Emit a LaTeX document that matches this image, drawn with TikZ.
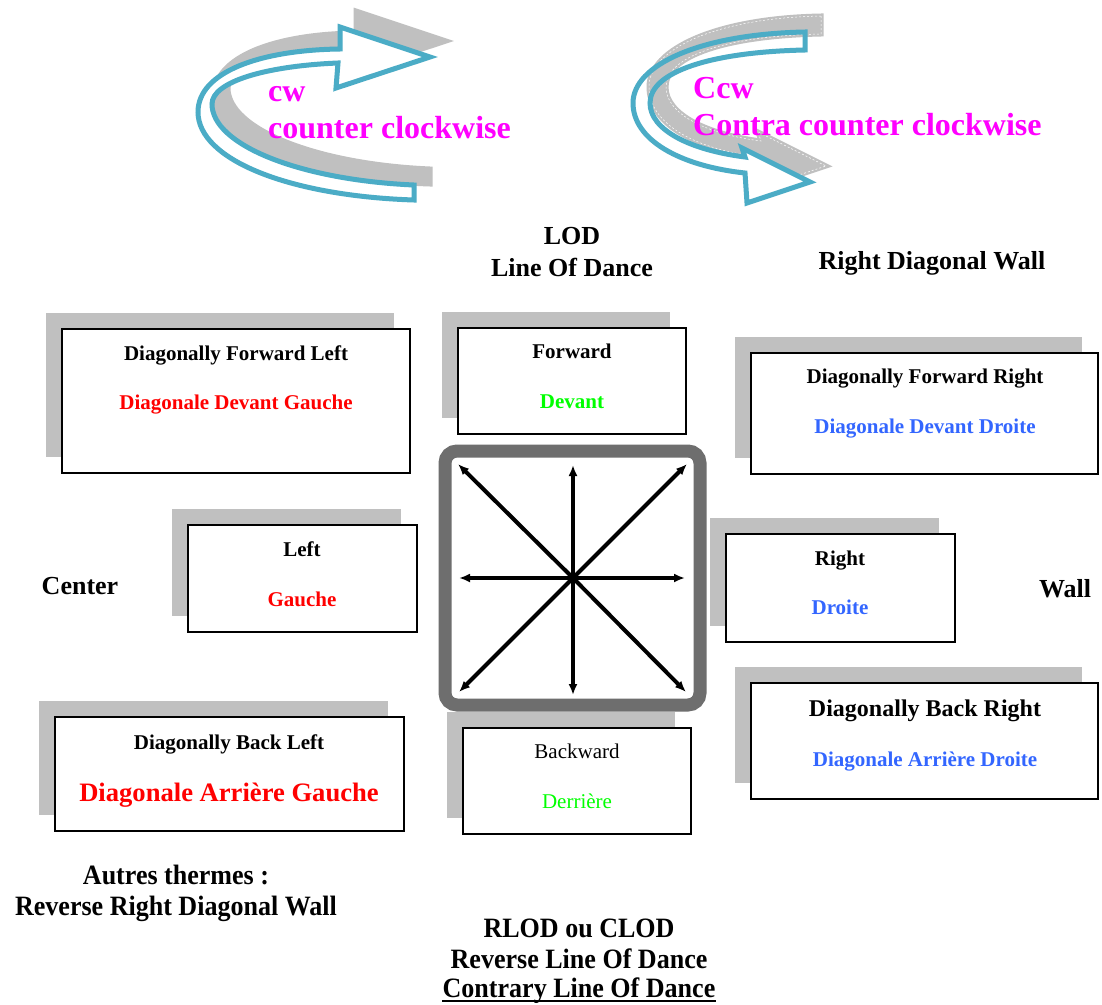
\documentclass[tikz,border=0pt]{standalone}
\usepackage{fontspec}
\usepackage{graphicx}
\setmainfont{Liberation Serif}
\usetikzlibrary{arrows.meta}
\definecolor{arrowblue}{HTML}{4BACC6}
\definecolor{shadowgray}{HTML}{C0C0C0}
\definecolor{framegray}{HTML}{6E6E6E}
\definecolor{txtred}{HTML}{FF0000}
\definecolor{txtgreen}{HTML}{00FF00}
\definecolor{txtblue}{HTML}{3366FF}
\definecolor{txtmag}{HTML}{FF00FF}
\newcommand{\shadowedbox}[5]{%
  \node[boxshadow, minimum width=#4, minimum height=#5] at (#2-16,#3-16) {};
  \node[dirbox, minimum width=#4, minimum height=#5] (#1) at (#2,#3) {};
}
\def\cwpath{(414,200) .. controls (290,196) and (198,160) .. (198,112) .. controls (198,72) and (260,50) .. (340,49) -- (340,27) -- (430,57) -- (336,88) -- (338,63) .. controls (265,66) and (212,82) .. (212,104) .. controls (212,145) and (300,180) .. (414,185) -- cycle}
\def\ccwpath{(805,32) .. controls (700,34) and (633,65) .. (633,103) .. controls (633,140) and (680,166) .. (745,173) -- (747,203) -- (810,182) -- (742,148) -- (745,157) .. controls (690,150) and (650,130) .. (650,103) .. controls (650,72) and (710,52) .. (805,50) -- cycle}
\begin{document}
\begin{tikzpicture}[x=1pt,y=-1pt,
  dirbox/.style={draw=black, line width=1.6pt, fill=white, inner sep=0pt},
  boxshadow/.style={fill=shadowgray, inner sep=0pt},
  lbl/.style={inner sep=0pt, anchor=base},
  fa/.style={lbl, font=\fontsize{21}{25}\selectfont\bfseries},
  fr/.style={lbl, font=\fontsize{21}{25}\selectfont},
  fb/.style={lbl, font=\fontsize{24}{28}\selectfont\bfseries},
  fc/.style={lbl, font=\fontsize{26.6}{30}\selectfont\bfseries},
  fbig/.style={lbl, font=\fontsize{26}{30}\selectfont\bfseries},
  fcond/.style={lbl, font=\fontsize{28}{32}\selectfont\bfseries},
  fmag/.style={lbl, anchor=base west, text=txtmag, font=\fontsize{32}{36}\selectfont\bfseries},
  compassarrow/.style={line width=4pt, -{Latex[length=11pt,width=9pt]}},
  ribbonshadow/.style={fill=shadowgray, draw=shadowgray, line width=5pt, line join=miter},
  ribbon/.style={draw=arrowblue, line width=5pt, line join=miter}
]
\useasboundingbox (0,0) rectangle (1102,1004);
\fill[white] (0,0) rectangle (1102,1004);

% ---- curved arrow cw (left) ----
\begin{scope}[shift={(16,-16)}]
  \filldraw[ribbonshadow] \cwpath;
\end{scope}
\begin{scope}
  \clip (150,0) rectangle (470,110);
  \fill[white] \cwpath;
\end{scope}
\draw[ribbon] \cwpath;

% ---- curved arrow ccw (right) ----
\begin{scope}[shift={(16,-16)}]
  \filldraw[ribbonshadow] \ccwpath;
  \draw[white, line width=0.5pt, dash pattern=on 2pt off 2pt] \ccwpath;
\end{scope}
\begin{scope}
  \clip (600,105) rectangle (860,220);
  \fill[white] \ccwpath;
\end{scope}
\draw[ribbon] \ccwpath;

\node[fmag] (cw) at (268,101) {cw};
\node[fmag] (cwtxt) at (268,138) {counter clockwise};
\node[fmag] (ccw) at (693,98) {Ccw};
\node[fmag] (ccwtxt) at (693,135) {Contra counter clockwise};

% ---- headings ----
\node[fbig] (lod) at (572,244) {LOD};
\node[fbig] (lodtxt) at (572,276) {Line Of Dance};
\node[fbig] (rdw) at (932,269) {Right Diagonal Wall};
\node[fbig] (center) at (80,594) {Center};
\node[fbig] (wall) at (1065,597) {Wall};

% ---- boxes ----
\shadowedbox{dfl}{236}{401}{348}{144}
\shadowedbox{fwd}{572}{381}{228}{106}
\shadowedbox{dfr}{924.5}{413.5}{347}{121}
\shadowedbox{lft}{302.5}{578.5}{229}{107}
\shadowedbox{rgt}{840.5}{588}{229}{108}
\shadowedbox{dbl}{229.5}{774}{349}{114}
\shadowedbox{dbr}{924.5}{741}{347}{116}
\shadowedbox{bwd}{577}{781}{228}{106}

\node[fa] (dflen) at (236,360) {Diagonally Forward Left};
\node[fa, text=txtred] (dflfr) at (236,409) {Diagonale Devant Gauche};
\node[fa] (fwden) at (572,358) {Forward};
\node[fa, text=txtgreen] (fwdfr) at (572,408) {Devant};
\node[fa] (dfren) at (925,383) {Diagonally Forward Right};
\node[fa, text=txtblue] (dfrfr) at (925,433) {Diagonale Devant Droite};
\node[fa] (lften) at (302,556) {Left};
\node[fa, text=txtred] (lftfr) at (302,606) {Gauche};
\node[fa] (rgten) at (840,565) {Right};
\node[fa, text=txtblue] (rgtfr) at (840,614) {Droite};
\node[fa] (dblen) at (229,749) {Diagonally Back Left};
\node[fc, text=txtred] (dblfr) at (229,801) {Diagonale Arrière Gauche};
\node[fb] (dbren) at (925,716) {Diagonally Back Right};
\node[fa, text=txtblue] (dbrfr) at (925,766) {Diagonale Arrière Droite};
\node[fr] (bwden) at (577,758) {Backward};
\node[fr, text=txtgreen] (bwdfr) at (577,808) {Derrière};

% ---- compass ----
\draw[line width=13pt, draw=framegray, rounded corners=12pt, fill=white] (445,451) rectangle (700,705);
\coordinate (c) at (573,578);
\coordinate (nw) at (458,464);
\coordinate (ne) at (687,464);
\coordinate (sw) at (459,692);
\coordinate (se) at (686,692);
\coordinate (n) at (573,465);
\coordinate (s) at (573,695);
\coordinate (w) at (459,578);
\coordinate (e) at (685,578);
\draw[compassarrow] (c) -- (n);
\draw[compassarrow] (c) -- (s);
\draw[compassarrow] (c) -- (w);
\draw[compassarrow] (c) -- (e);
\draw[compassarrow] (c) -- (nw);
\draw[compassarrow] (c) -- (ne);
\draw[compassarrow] (c) -- (sw);
\draw[compassarrow] (c) -- (se);
\fill (c) circle (5pt);

% ---- bottom texts ----
\node[fcond] (autres) at (176,884) {\scalebox{0.93}[1]{Autres thermes :}};
\node[fcond] (rrdw) at (176,915) {\scalebox{0.93}[1]{Reverse Right Diagonal Wall}};
\node[fcond] (rlod) at (579,937) {\scalebox{0.93}[1]{RLOD ou CLOD}};
\node[fcond] (rlodtxt) at (579,968) {\scalebox{0.93}[1]{Reverse Line Of Dance}};
\node[fcond] (clod) at (579,997) {\scalebox{0.93}[1]{Contrary Line Of Dance}};
\draw[line width=1.6pt] ([yshift=-4pt]clod.base west) -- ([yshift=-4pt]clod.base east);
\end{tikzpicture}
\end{document}
